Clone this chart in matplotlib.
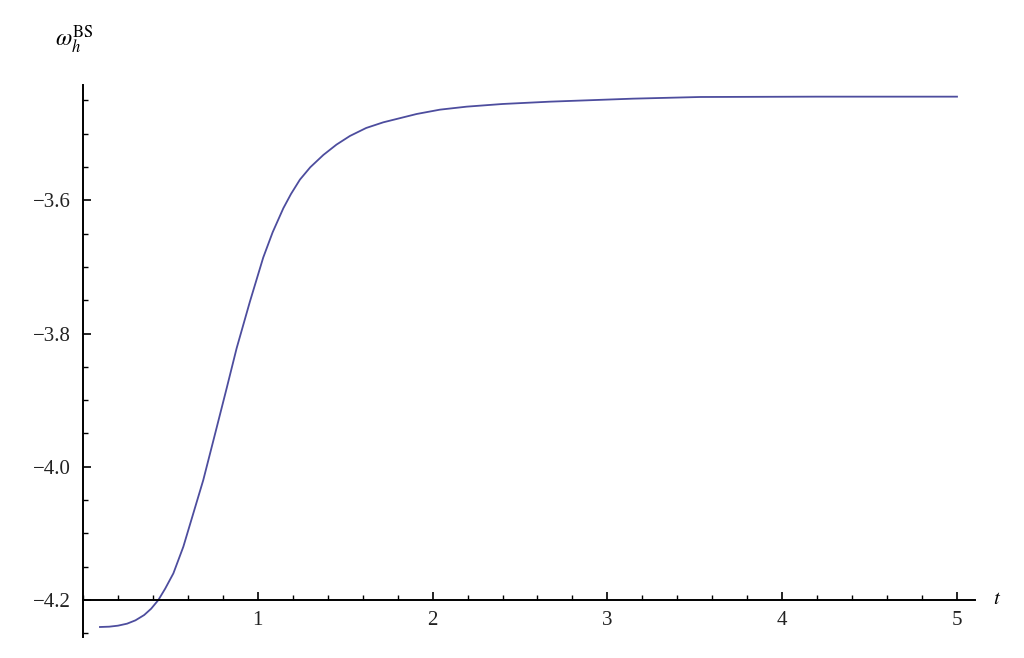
import numpy as np
import matplotlib
matplotlib.use('Agg')
import matplotlib.pyplot as plt
from matplotlib.ticker import MultipleLocator, FixedLocator

# values
t_vals = [0.097, 0.150, 0.200, 0.252, 0.300, 0.350, 0.390, 0.431, 0.470,
          0.517, 0.574, 0.631, 0.688, 0.761, 0.822, 0.879, 0.955, 1.031,
          1.085, 1.146, 1.190, 1.241, 1.300, 1.375, 1.450, 1.527, 1.620,
          1.718, 1.909, 2.042, 2.195, 2.400, 2.672, 3.146, 3.530, 4.200,
          5.000]
w_vals = [-4.2405, -4.2400, -4.2385, -4.2355, -4.2305, -4.2225, -4.2130,
          -4.2000, -4.1830, -4.1600, -4.1200, -4.0700, -4.0200, -3.9450,
          -3.8820, -3.8220, -3.7520, -3.6860, -3.6480, -3.6120, -3.5905,
          -3.5690, -3.5505, -3.5320, -3.5165, -3.5035, -3.4915, -3.4830,
          -3.4705, -3.4640, -3.4595, -3.4555, -3.4520, -3.4475, -3.4450,
          -3.4445, -3.4445]
x_major = [1, 2, 3, 4, 5]
y_major = [-4.2, -4.0, -3.8, -3.6]

plt.rcParams['font.family'] = ['Liberation Serif', 'DejaVu Serif']
plt.rcParams['mathtext.fontset'] = 'stix'

W, H = 1024, 658
fig = plt.figure(figsize=(W / 100, H / 100), dpi=100)
# axes placed so that x=0 sits at px 83 and y=-4.2 at px 600
ax = fig.add_axes([83 / W, (H - 637) / H, 892 / W, 552 / H])
ax.set_xlim(0, 5.103)
ax.set_ylim(-4.2555, -3.427)

ax.plot(t_vals, w_vals, color='#4d4d9e', lw=1.3, solid_joinstyle='round')

for s in ['top', 'right']:
    ax.spines[s].set_visible(False)
ax.spines['left'].set_position(('data', 0))
ax.spines['bottom'].set_position(('data', -4.2))
ax.spines['left'].set_linewidth(1.4)
ax.spines['bottom'].set_linewidth(1.4)

ax.xaxis.set_major_locator(FixedLocator(x_major))
ax.xaxis.set_minor_locator(MultipleLocator(0.2))
ax.yaxis.set_major_locator(FixedLocator(y_major))
ax.yaxis.set_minor_locator(MultipleLocator(0.05))
ax.set_yticklabels(['\u2212%.1f' % abs(v) for v in y_major])
ax.set_xticklabels([str(v) for v in x_major])

ax.tick_params(which='major', direction='in', length=6, width=1.2, labelsize=15)
ax.tick_params(which='minor', direction='in', length=3.5, width=1.0)
ax.tick_params(axis='x', which='major', pad=8)
ax.tick_params(axis='y', which='major', pad=9)
for lab in ax.get_xticklabels() + ax.get_yticklabels():
    lab.set_color('#222222')

fig.text(55 / W, 1 - 40 / H, r'$\omega_h^{\mathrm{BS}}$', fontsize=17,
         ha='left', va='center')
fig.text(993 / W, 1 - 600 / H, r'$t$', fontsize=15, ha='left', va='center')

fig.savefig('out.png', dpi=100)
